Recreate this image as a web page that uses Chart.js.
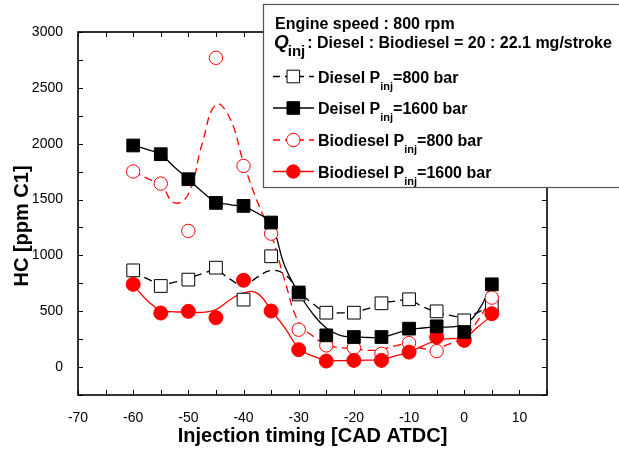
<!DOCTYPE html>
<html>
<head>
<meta charset="utf-8">
<script src="https://cdn.jsdelivr.net/npm/chart.js@4"></script>
<style>
  html, body { margin: 0; padding: 0; background: #fff; }
</style>
</head>
<body>
<canvas id="hcChart" width="619" height="454"></canvas>
<script>
// measured points, injection timing [CAD ATDC]
const timing = [-60, -55, -50, -45, -40, -35, -30, -25, -20, -15, -10, -5, 0, 5];
const diesel800 = [866, 726, 783, 890, 604, 992, 650, 487, 487, 571, 607, 499, 418, 550];
const diesel1600 = [1984, 1906, 1682, 1470, 1443, 1294, 668, 284, 269, 269, 344, 365, 314, 741];
const bio800 = [1751, 1643, 1219, 2769, 1801, 1195, 335, 194, 174, 119, 215, 143, 250, 622];
const bio1600 = [741, 484, 499, 442, 777, 502, 156, 54, 60, 60, 134, 269, 239, 478];

// smoothed curves as drawn in the picture
const fitTiming = [-60, -57.5, -55, -52.5, -50, -47.5, -45, -42.5, -40, -37.5, -35, -32.5, -30,
  -27.5, -25, -22.5, -20, -17.5, -15, -12.5, -10, -7.5, -5, -2.5, 0, 2.5, 5];
const diesel800Fit = [860, 792, 745, 760, 795, 835, 865, 790, 728, 805, 865, 830, 680,
  570, 493, 485, 493, 523, 570, 590, 600, 540, 493, 463, 448, 490, 568];
const diesel1600Fit = [1984, 1950, 1900, 1790, 1682, 1570, 1480, 1455, 1435, 1380, 1280, 900, 665,
  480, 350, 284, 270, 265, 265, 300, 335, 350, 358, 360, 385, 500, 741];
const bio800Fit = [1753, 1690, 1630, 1470, 1550, 2000, 2350, 2230, 1830, 1480, 1190, 770, 400,
  280, 200, 175, 165, 150, 160, 190, 210, 165, 174, 210, 269, 420, 627];
const bio1600Fit = [738, 598, 508, 495, 493, 490, 515, 600, 665, 660, 510, 350, 170,
  100, 62, 58, 60, 62, 68, 100, 134, 190, 239, 255, 263, 360, 463];

const xTicks = [-70, -60, -50, -40, -30, -20, -10, 0, 10];
const yTicks = [0, 500, 1000, 1500, 2000, 2500, 3000];

const FONT = '"Liberation Sans", Arial, sans-serif';
Chart.defaults.font.family = FONT;
Chart.defaults.color = '#000';

const pts = (xs, ys) => xs.map((x, i) => ({ x: x, y: ys[i] }));

function fitLine(ys, color, dash) {
  return {
    data: pts(fitTiming, ys),
    borderColor: color,
    borderWidth: 1.3,
    borderDash: dash,
    pointRadius: 0,
    tension: 0.45,
    fill: false,
    order: 10
  };
}

function markers(ys, style, r, fillColor, edgeColor, order) {
  return {
    data: pts(timing, ys),
    showLine: false,
    pointStyle: style,
    pointRadius: r,
    pointBackgroundColor: fillColor,
    pointBorderColor: edgeColor,
    pointBorderWidth: 1,
    order: order
  };
}

// legend rows: label before subscript, after subscript
const legendRows = [
  { pre: 'Diesel P', post: '=800 bar', color: '#000', dash: [7, 5], style: 'square', fill: '#fff' },
  { pre: 'Deisel P', post: '=1600 bar', color: '#000', dash: [], style: 'square', fill: '#000' },
  { pre: 'Biodiesel P', post: '=800 bar', color: '#f00', dash: [7, 5], style: 'circle', fill: '#fff' },
  { pre: 'Biodiesel P', post: '=1600 bar', color: '#f00', dash: [], style: 'circle', fill: '#f00' }
];

const framePlugin = {
  id: 'frame',
  afterDatasetsDraw(chart) {
    const { ctx, chartArea: a, scales } = chart;
    const x = scales.x, y = scales.y;
    ctx.save();
    ctx.strokeStyle = '#000';
    ctx.lineWidth = 1;
    ctx.beginPath();
    for (let v = -70; v <= 15; v += 5) {
      const px = Math.round(x.getPixelForValue(v)) + 0.5;
      ctx.moveTo(px, a.bottom); ctx.lineTo(px, a.bottom - 5);
      ctx.moveTo(px, a.top); ctx.lineTo(px, a.top + 5);
    }
    for (let v = -250; v <= 3000; v += 250) {
      const py = Math.round(y.getPixelForValue(v)) + 0.5;
      ctx.moveTo(a.left, py); ctx.lineTo(a.left + 5, py);
      ctx.moveTo(a.right, py); ctx.lineTo(a.right - 5, py);
    }
    ctx.stroke();
    ctx.lineWidth = 1.6;
    ctx.strokeRect(a.left, a.top, a.right - a.left, a.bottom - a.top);

    // y axis title
    ctx.fillStyle = '#000';
    ctx.font = 'bold 20px ' + FONT;
    ctx.textAlign = 'center';
    ctx.textBaseline = 'middle';
    ctx.translate(22, 226);
    ctx.rotate(-Math.PI / 2);
    ctx.fillText('HC [ppm C1]', 0, 0);
    ctx.restore();
  },
  afterDraw(chart) {
    const ctx = chart.ctx;
    ctx.save();
    // legend box
    ctx.fillStyle = '#fff';
    ctx.fillRect(263, 4, 400, 183);
    ctx.strokeStyle = '#555';
    ctx.lineWidth = 1.2;
    ctx.strokeRect(263.5, 4.5, 400, 183);

    ctx.fillStyle = '#000';
    ctx.textAlign = 'left';
    ctx.textBaseline = 'alphabetic';
    ctx.font = 'bold 16px ' + FONT;
    ctx.fillText('Engine speed : 800 rpm', 275, 28.5);

    ctx.font = 'italic bold 19px ' + FONT;
    ctx.fillText('Q', 274, 48);
    let cx = 274 + ctx.measureText('Q').width - 1;
    ctx.font = 'bold 15px ' + FONT;
    ctx.fillText('inj', cx, 56);
    cx += ctx.measureText('inj').width + 2;
    ctx.font = 'bold 16px ' + FONT;
    ctx.fillText(': Diesel : Biodiesel = 20 : 22.1 mg/stroke', cx, 48);

    const baselines = [82.5, 114, 146, 177.5];
    legendRows.forEach((row, i) => {
      const by = baselines[i];
      const my = by - 6;
      ctx.strokeStyle = row.color;
      ctx.lineWidth = 1.3;
      ctx.setLineDash(row.dash);
      ctx.beginPath();
      ctx.moveTo(273, my); ctx.lineTo(314, my);
      ctx.stroke();
      ctx.setLineDash([]);
      ctx.lineWidth = 1;
      ctx.fillStyle = row.fill;
      ctx.beginPath();
      if (row.style === 'square') {
        ctx.rect(287, my - 6.3, 12.6, 12.6);
      } else {
        ctx.arc(293.3, my, 6.7, 0, Math.PI * 2);
      }
      ctx.fill();
      ctx.stroke();

      ctx.fillStyle = '#000';
      let tx = 318;
      ctx.font = 'bold 16px ' + FONT;
      ctx.fillText(row.pre, tx, by);
      tx += ctx.measureText(row.pre).width;
      ctx.font = 'bold 11px ' + FONT;
      ctx.fillText('inj', tx, by + 7);
      tx += ctx.measureText('inj').width;
      ctx.font = 'bold 16px ' + FONT;
      ctx.fillText(row.post, tx, by);
    });
    ctx.restore();
  }
};

const ctx = document.getElementById('hcChart').getContext('2d');
const hcChart = new Chart(ctx, {
  type: 'line',
  data: {
    datasets: [
      fitLine(diesel800Fit, '#000', [8, 5]),
      fitLine(diesel1600Fit, '#000', []),
      fitLine(bio800Fit, '#f00', [8, 5]),
      fitLine(bio1600Fit, '#f00', []),
      markers(diesel800, 'rect', 9, '#fff', '#000', 4),
      markers(bio800, 'circle', 6.7, '#fff', '#f00', 3),
      markers(bio1600, 'circle', 7, '#f00', '#f00', 2),
      markers(diesel1600, 'rect', 9, '#000', '#000', 1)
    ]
  },
  options: {
    responsive: false,
    animation: false,
    layout: { padding: { top: 32, right: 72, left: 0, bottom: 0 } },
    plugins: { legend: { display: false }, tooltip: { enabled: false } },
    scales: {
      x: {
        type: 'linear',
        min: -70,
        max: 15,
        grid: { display: false },
        border: { display: false },
        afterBuildTicks: s => { s.ticks = xTicks.map(v => ({ value: v })); },
        afterFit: s => { s.height = 59; },
        ticks: { autoSkip: false, maxRotation: 0, padding: 7, color: '#000', font: { size: 14 }, callback: v => String(v) },
        title: {
          display: true,
          text: 'Injection timing [CAD ATDC]',
          color: '#000',
          font: { size: 20, weight: 'bold' },
          padding: { top: 0, bottom: 6 }
        }
      },
      y: {
        type: 'linear',
        min: -250,
        max: 3000,
        grid: { display: false },
        border: { display: false },
        afterBuildTicks: s => { s.ticks = yTicks.map(v => ({ value: v })); },
        afterFit: s => { s.width = 78; },
        ticks: { autoSkip: false, padding: 7, color: '#000', font: { size: 14 }, callback: v => String(v) }
      }
    }
  },
  plugins: [framePlugin]
});
</script>
</body>
</html>
